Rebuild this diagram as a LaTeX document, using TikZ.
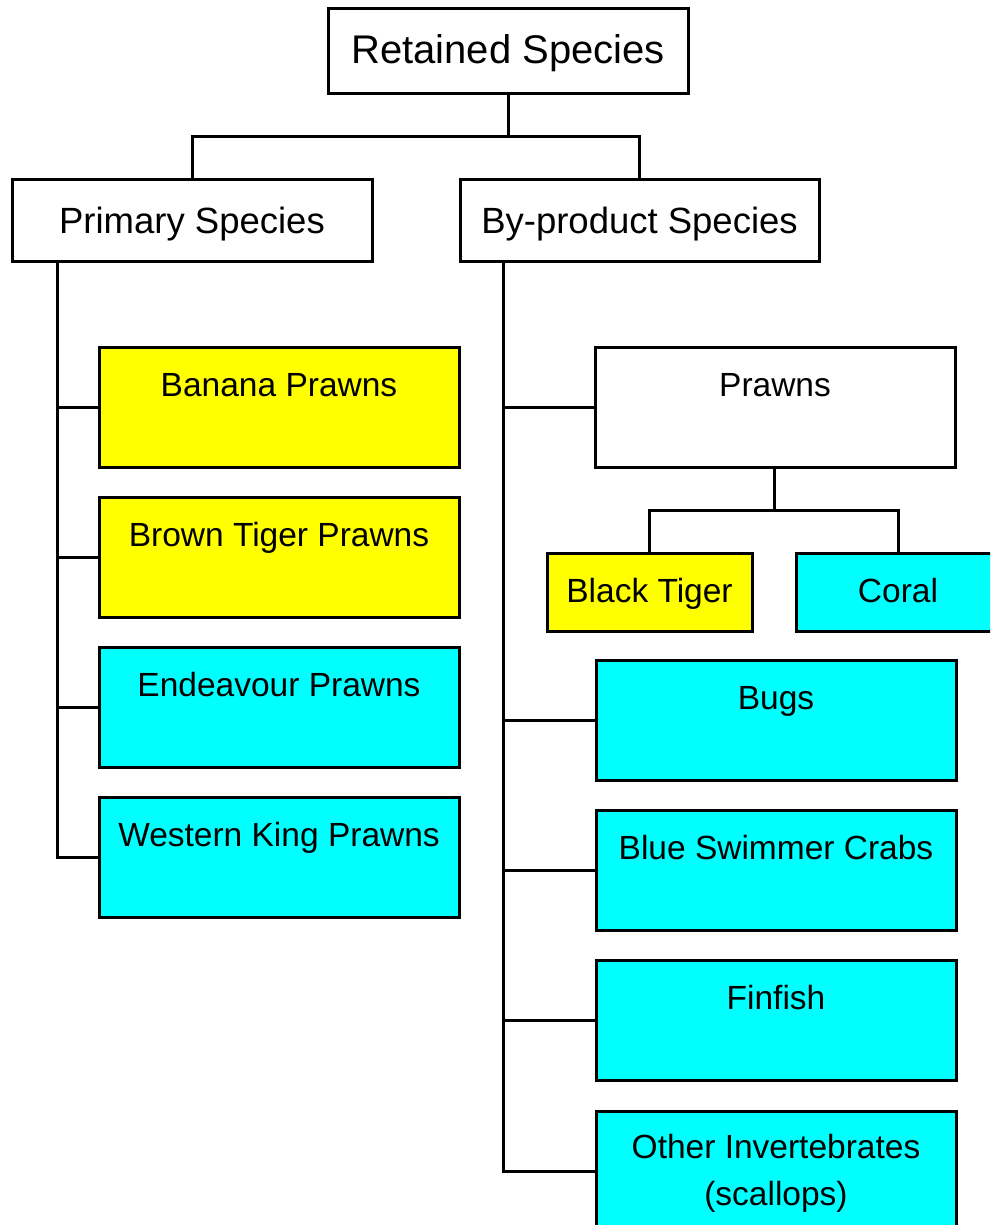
\documentclass[tikz,border=0pt]{standalone}
\usepackage{fontspec}
\setmainfont{Liberation Sans}
\usetikzlibrary{calc}
\definecolor{boxyellow}{RGB}{255,255,0}
\definecolor{boxcyan}{RGB}{0,255,255}
\begin{document}
\begin{tikzpicture}[x=1pt,y=-1pt,
  box/.style={draw=black, line width=3pt, rectangle, inner sep=0pt, outer sep=0pt, anchor=north west},
  small/.style={font=\fontsize{33.5}{47}\selectfont},
  mid/.style={font=\fontsize{36.5}{44}\selectfont},
  big/.style={font=\fontsize{40}{48}\selectfont},
  wide/.style={minimum width=360pt},
  tall/.style={text height=49pt, text depth=71pt},
  leaf/.style={box, wide, tall, small},
  link/.style={draw=black, line width=3pt}]
\useasboundingbox (0,0) rectangle (990,1225);
\clip (0,0) rectangle (990,1225);

% top levels
\node[box, big, wide, text height=55pt, text depth=30pt] (retained) at (328,9) {Retained Species};
\node[box, mid, wide, text height=53pt, text depth=28pt] (primary) at (12,180) {Primary Species};
\node[box, mid, minimum width=359pt, text height=53pt, text depth=28pt] (byprod) at (460,180) {By-product Species};

% primary species
\node[leaf, fill=boxyellow] (banana) at (99,347) {Banana Prawns};
\node[leaf, fill=boxyellow] (brown) at (99,497) {Brown Tiger Prawns};
\node[leaf, fill=boxcyan] (endeavour) at (99,647) {Endeavour Prawns};
\node[leaf, fill=boxcyan] (western) at (99,797) {Western King Prawns};

% by-product species
\node[leaf] (prawns) at (595,347) {Prawns};
\node[box, small, minimum width=205pt, text height=49pt, text depth=29pt, fill=boxyellow] (black) at (547,553) {Black Tiger};
\node[box, small, minimum width=204pt, text height=49pt, text depth=29pt, fill=boxcyan] (coral) at (796,553) {Coral};
\node[leaf, fill=boxcyan] (bugs) at (596,660) {Bugs};
\node[leaf, fill=boxcyan] (crabs) at (596,810) {Blue Swimmer Crabs};
\node[leaf, fill=boxcyan] (finfish) at (596,960) {Finfish};
\node[box, small, wide, text height=47pt, text depth=73pt, fill=boxcyan] (other) at (596,1111)
  {\begin{tabular}[t]{@{}c@{}}Other Invertebrates\\(scallops)\end{tabular}};

% junction points
\coordinate (tbar) at (508,137);
\coordinate (pbar) at (774,510);
\coordinate (ltrunk) at ($(primary.south west)+(45,0)$);
\coordinate (rtrunk) at ($(byprod.south west)+(43,0)$);

% connectors
\draw[link] (retained.south) -- (tbar);
\draw[link] (primary.north) |- (tbar) -| (byprod.north);

\draw[link] (ltrunk) |- (western.west);
\foreach \n in {banana,brown,endeavour}
  \draw[link] (ltrunk |- \n.west) -- (\n.west);

\draw[link] (rtrunk) |- (other.west);
\foreach \n in {prawns,bugs,crabs,finfish}
  \draw[link] (rtrunk |- \n.west) -- (\n.west);

\draw[link] (prawns.south -| pbar) -- (pbar);
\draw[link] (black.north) |- (pbar) -| (coral.north);
\end{tikzpicture}
\end{document}
